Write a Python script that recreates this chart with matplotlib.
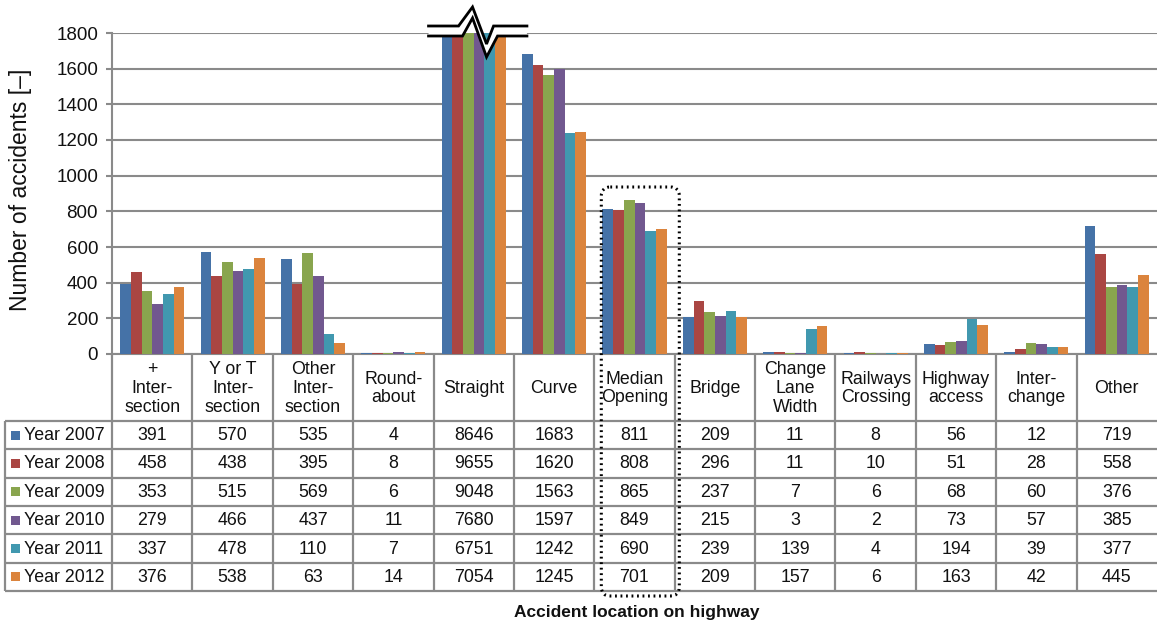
import matplotlib
matplotlib.use("Agg")
import matplotlib.pyplot as plt
from matplotlib.patches import FancyBboxPatch, Polygon, Rectangle

plt.rcParams['font.family'] = ['Liberation Sans', 'DejaVu Sans']

# ---- data -------------------------------------------------------------
categories = ["+\nInter-\nsection", "Y or T\nInter-\nsection", "Other\nInter-\nsection",
              "Round-\nabout", "Straight", "Curve", "Median\nOpening", "Bridge",
              "Change\nLane\nWidth", "Railways\nCrossing", "Highway\naccess",
              "Inter-\nchange", "Other"]
series_names = ["Year 2007", "Year 2008", "Year 2009", "Year 2010", "Year 2011", "Year 2012"]
y2007 = [391, 570, 535, 4, 8646, 1683, 811, 209, 11, 8, 56, 12, 719]
y2008 = [458, 438, 395, 8, 9655, 1620, 808, 296, 11, 10, 51, 28, 558]
y2009 = [353, 515, 569, 6, 9048, 1563, 865, 237, 7, 6, 68, 60, 376]
y2010 = [279, 466, 437, 11, 7680, 1597, 849, 215, 3, 2, 73, 57, 385]
y2011 = [337, 478, 110, 7, 6751, 1242, 690, 239, 139, 4, 194, 39, 377]
y2012 = [376, 538, 63, 14, 7054, 1245, 701, 209, 157, 6, 163, 42, 445]
series_values = [y2007, y2008, y2009, y2010, y2011, y2012]
colors = ["#4572A7", "#AA4643", "#89A54E", "#71588F", "#4198AF", "#DB843D"]
yticks = list(range(0, 1801, 200))
highlight = "Median\nOpening"
broken = "Straight"

# ---- layout (pixels) --------------------------------------------------
W, H = 1157, 626
PL, PR, PT, PB = 112, 1157, 33, 354
HEAD_B = 421
TB = 591
TL = 5
n_cat = len(categories)
col_w = (PR - PL) / n_cat
n_rows = len(series_names)
row_h = (TB - HEAD_B) / n_rows
grid_c = "#8a8a8a"
FS = 12.8

fig = plt.figure(figsize=(W / 100, H / 100), dpi=100)

ax = fig.add_axes([PL / W, 1 - PB / H, (PR - PL) / W, (PB - PT) / H])
bw = 0.133
for j, (vals, c) in enumerate(zip(series_values, colors)):
    xs = [i + (j - (n_rows - 1) / 2) * bw for i in range(n_cat)]
    ax.bar(xs, vals, width=bw, color=c, linewidth=0, zorder=3)
ax.set_xlim(-0.5, n_cat - 0.5)
ax.set_ylim(0, 1800)
ax.set_yticks(yticks)
ax.set_xticks([])
ax.yaxis.grid(True, color=grid_c, linewidth=1.5, zorder=0)
ax.set_axisbelow(True)
for s in ("top", "right"):
    ax.spines[s].set_visible(False)
for s in ("left", "bottom"):
    ax.spines[s].set_color(grid_c)
    ax.spines[s].set_linewidth(1.5)
ax.tick_params(axis="y", direction="out", length=4, width=1.5, color=grid_c,
               labelsize=13.5, labelcolor="#111111", pad=6)

# overlay in pixel coordinates for the data table and annotations
ov = fig.add_axes([0, 0, 1, 1], facecolor="none")
ov.set_xlim(0, W)
ov.set_ylim(H, 0)
ov.axis("off")

# table grid
lk = dict(color=grid_c, linewidth=1.6, solid_capstyle="butt")
for k in range(n_cat):
    x = PL + k * col_w
    ov.plot([x, x], [PB, TB], **lk)
ov.plot([TL, TL], [HEAD_B, TB], **lk)
for r in range(n_rows + 1):
    y = HEAD_B + r * row_h
    ov.plot([TL, W], [y, y], **lk)

# header cells
for i, cat in enumerate(categories):
    cx = PL + (i + 0.5) * col_w
    ov.text(cx, (PB + HEAD_B) / 2 + 1, cat, ha="center", va="center",
            multialignment="center", fontsize=FS, linespacing=1.15, color="#111111")

# data rows with legend keys
for r, (name, vals, c) in enumerate(zip(series_names, series_values, colors)):
    cy = HEAD_B + (r + 0.5) * row_h
    ov.add_patch(Rectangle((11, cy - 4.5), 9, 9, color=c, linewidth=0))
    ov.text(24, cy + 0.5, name, ha="left", va="center", fontsize=FS, color="#111111")
    for i, v in enumerate(vals):
        cx = PL + (i + 0.5) * col_w
        ov.text(cx, cy + 0.5, f"{v}", ha="center", va="center", fontsize=FS, color="#111111")

# axis break marker on the clipped column
bi = categories.index(broken)
bx0 = PL + bi * col_w - 5
bx1 = PL + (bi + 1) * col_w + 13
upper = [(bx0, 26), (bx0 + 30, 26), (bx0 + 44, 7), (bx0 + 58, 44), (bx0 + 65, 26), (bx1, 26)]
lower = [(bx0, 36), (bx0 + 34, 36), (bx0 + 44, 18), (bx0 + 58, 57), (bx0 + 69, 36), (bx1, 36)]
ov.add_patch(Polygon(upper + lower[::-1], closed=True, facecolor="white",
                     edgecolor="none", zorder=5))
for path in (upper, lower):
    ov.plot([p[0] for p in path], [p[1] for p in path], color="black",
            linewidth=2.0, zorder=6, solid_joinstyle="miter")

# dotted frame around the highlighted location
hi = categories.index(highlight)
hx = PL + hi * col_w + 7
ov.add_patch(FancyBboxPatch((hx, 187), 78, 409,
                            boxstyle="round,pad=0,rounding_size=9",
                            facecolor="none", edgecolor="black",
                            linewidth=2.2, linestyle=(0, (0.6, 1.2)), zorder=7))

# axis titles
fig.text(21 / W, 1 - 190 / H, "Number of accidents [\u2013]", rotation=90,
         ha="center", va="center", fontsize=16.5, color="#111111")
fig.text(637 / W, 1 - 612 / H, "Accident location on highway", ha="center",
         va="center", fontsize=12.5, fontweight="bold", color="#111111")

fig.savefig("out.png", dpi=100)
